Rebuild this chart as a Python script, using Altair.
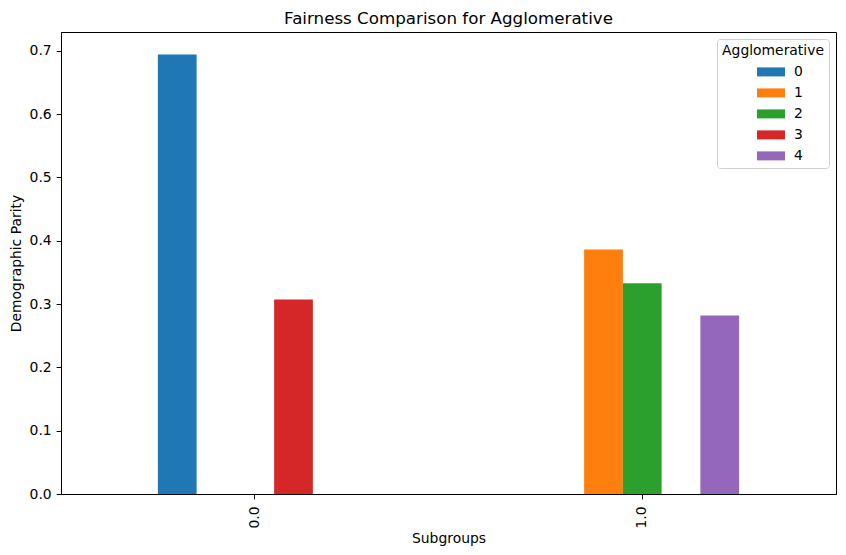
import altair as alt
import pandas as pd

subgroups = ["0.0", "0.0", "1.0", "1.0", "1.0"]
clusters = ["0", "3", "1", "2", "4"]
values = [0.694, 0.307, 0.386, 0.333, 0.282]
cluster_domain = ["0", "1", "2", "3", "4"]
colors = ["#1f77b4", "#ff7f0e", "#2ca02c", "#d62728", "#9467bd"]
y_ticks = [0.0, 0.1, 0.2, 0.3, 0.4, 0.5, 0.6, 0.7]

df = pd.DataFrame({"Subgroups": subgroups, "Agglomerative": clusters, "Value": values})

font = "DejaVu Sans"
fs = 13.9

# wide rectangle legend handle, shifted right so entries sit centred under the title
handle = "M0.857,-0.643H4.857V0.643H0.857Z"

chart = alt.Chart(df, title=alt.Title("Fairness Comparison for Agglomerative", fontSize=16.7, font=font,
                                      fontWeight="normal", offset=4,
                                      color="black")).mark_bar().encode(
    x=alt.X("Subgroups:N", title="Subgroups",
            scale=alt.Scale(domain=["0.0", "1.0"], paddingInner=0.5, paddingOuter=0.25),
            axis=alt.Axis(labelAngle=270, labelAlign="right", labelBaseline="middle",
                          labelFontSize=fs, titleFontSize=fs, labelFont=font, titleFont=font,
                          titleFontWeight="normal", tickSize=4.9, labelPadding=7, titlePadding=4,
                          domainColor="black", tickColor="black", labelColor="black",
                          titleColor="black")),
    xOffset=alt.XOffset("Agglomerative:N", scale=alt.Scale(domain=cluster_domain, paddingInner=0, paddingOuter=0)),
    y=alt.Y("Value:Q", title="Demographic Parity",
            scale=alt.Scale(domain=[0, 0.7296], nice=False, zero=True),
            axis=alt.Axis(values=y_ticks, format=".1f", labelFontSize=fs, titleFontSize=fs,
                          labelFont=font, titleFont=font, titleFontWeight="normal",
                          tickSize=4.9, labelPadding=4.9, titlePadding=6, grid=False,
                          domainColor="black", tickColor="black", labelColor="black",
                          titleColor="black")),
    color=alt.Color("Agglomerative:N", scale=alt.Scale(domain=cluster_domain, range=colors),
                    legend=alt.Legend(title="Agglomerative", orient="top-right",
                                      symbolType=handle,
                                      symbolSize=196, symbolStrokeWidth=0, titleFontSize=fs,
                                      labelFontSize=fs, titleFont=font, labelFont=font,
                                      titleFontWeight="normal", fillColor="white",
                                      strokeColor="#d0d0d0", cornerRadius=3, padding=5,
                                      offset=7, rowPadding=7, labelOffset=36, titlePadding=7,
                                      titleAnchor="middle", titleColor="black", labelColor="black")),
).properties(
    width=775, height=462, autosize="none",
    padding={"left": 53, "top": 24, "right": 2, "bottom": 53},
).configure_view(stroke="black", strokeWidth=1)

chart.save("out.html", embed_options={"renderer": "svg", "actions": False})
